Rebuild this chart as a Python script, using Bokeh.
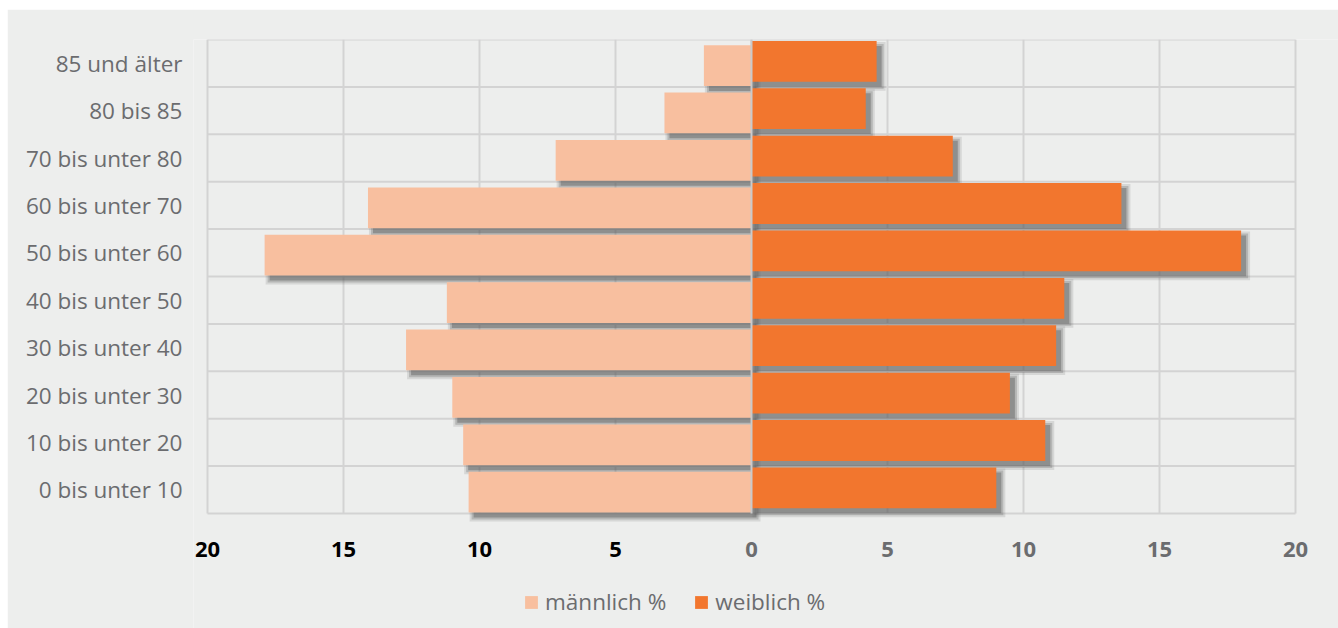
from bokeh.plotting import figure
from bokeh.models import FixedTicker, Legend, LegendItem
from bokeh.core.properties import value
from bokeh.embed import file_html
from bokeh.resources import INLINE

# Altersgruppen (unten nach oben) und Anteile in Prozent
age_groups = [
    "0 bis unter 10", "10 bis unter 20", "20 bis unter 30", "30 bis unter 40",
    "40 bis unter 50", "50 bis unter 60", "60 bis unter 70", "70 bis unter 80",
    "80 bis 85", "85 und älter",
]
male_pct = [10.4, 10.6, 11.0, 12.7, 11.2, 17.9, 14.1, 7.2, 3.2, 1.75]
female_pct = [9.0, 10.8, 9.5, 11.2, 11.5, 18.0, 13.6, 7.4, 4.2, 4.6]
x_ticks = [-20, -15, -10, -5, 0, 5, 10, 15, 20]

BG = "#edeeed"
GRID = "#d3d3d3"
MALE_COLOR = "#f8bf9f"
FEMALE_COLOR = "#f2762e"
TEXT_GRAY = "#6b6c6f"
FONT = "Open Sans"

W, H = 1331, 619
B_LEFT, B_TOP = 186, 30
FRAME_W = W - B_LEFT          # frame reaches the right and bottom edges
FRAME_H = H - B_TOP
GRID_W, GRID_H = 1088, 474    # pixel size of the bar area
PAD_L = 14                    # frame space left of the bar area
X0, X1 = -20, 20
Y0, Y1 = 0, len(age_groups)

# data units per screen pixel
PX_X = (X1 - X0) / GRID_W
PX_Y = (Y1 - Y0) / GRID_H
X_START = X0 - PAD_L * PX_X
X_END = X_START + FRAME_W * PX_X
Y_START = Y1 - FRAME_H * PX_Y

p = figure(
    width=W, height=H, x_range=(X_START, X_END), y_range=(Y_START, Y1),
    output_backend="svg", toolbar_location=None,
    min_border_left=B_LEFT, min_border_right=0,
    min_border_top=B_TOP, min_border_bottom=0,
    background_fill_color=BG, border_fill_color=BG,
    outline_line_color=None,
)
p.margin = (9, 0, 0, 7)

centers = [i + 0.5 for i in range(len(age_groups))]
bar_h = 0.86
female_y = [c + 0.04 for c in centers]
male_y = [c - 0.05 for c in centers]
male_left = [-v for v in male_pct]
zeros = [0] * len(age_groups)

# grid lines, limited to the bar area
p.xgrid.visible = False
p.ygrid.visible = False
p.segment(x0=x_ticks, y0=[Y0] * len(x_ticks), x1=x_ticks, y1=[Y1] * len(x_ticks),
          line_color=GRID, line_width=2)
bounds = list(range(Y0, Y1 + 1))
p.segment(x0=[X0] * len(bounds), y0=bounds, x1=[X1] * len(bounds), y1=bounds,
          line_color=GRID, line_width=2)

# soft drop shadows behind the bars
SH_DX, SH_DY = 5 * PX_X, 5 * PX_Y
for grow, alpha in [(4, 0.15), (2, 0.25), (0, 0.4)]:
    gx, gy = grow * PX_X, grow * PX_Y
    for ys, lefts, rights in [(male_y, male_left, zeros), (female_y, zeros, female_pct)]:
        p.hbar(
            y=[y - SH_DY for y in ys],
            left=[l + SH_DX - gx for l in lefts],
            right=[r + SH_DX + gx for r in rights],
            height=bar_h + 2 * gy,
            fill_color="#555555", fill_alpha=alpha, line_color=None,
        )

male_r = p.hbar(y=male_y, left=male_left, right=zeros, height=bar_h,
                fill_color=MALE_COLOR, line_color=None)
female_r = p.hbar(y=female_y, left=zeros, right=female_pct, height=bar_h,
                  fill_color=FEMALE_COLOR, line_color=None)

# zero line between the two halves
p.segment(x0=[0], y0=[Y0], x1=[0], y1=[Y1], line_color="#cacaca", line_width=2)

# y axis: category names
p.yaxis.ticker = FixedTicker(ticks=centers)
p.yaxis.major_label_overrides = {c: name for c, name in zip(centers, age_groups)}
p.yaxis.axis_line_color = None
p.yaxis.major_tick_line_color = None
p.yaxis.minor_tick_line_color = None
p.yaxis.major_label_standoff = 5
p.yaxis.major_label_text_font = FONT
p.yaxis.major_label_text_font_size = "22.5px"
p.yaxis.major_label_text_color = TEXT_GRAY

# x tick labels: left half black, right half gray
p.xaxis.visible = False
p.text(
    x=x_ticks, y=[Y0 - 35.5 * PX_Y] * len(x_ticks),
    text=[str(abs(t)) for t in x_ticks],
    text_color=["#000000" if t < 0 else TEXT_GRAY for t in x_ticks],
    text_align="center", text_baseline="middle",
    text_font=value(FONT), text_font_size="22px", text_font_style="bold",
)

legend = Legend(
    items=[LegendItem(label="männlich %", renderers=[male_r]),
           LegendItem(label="weiblich %", renderers=[female_r])],
    orientation="horizontal", location=(PAD_L + 316, 11),
    glyph_width=16, glyph_height=16, label_standoff=6, spacing=27,
    label_text_font=FONT, label_text_font_size="22.5px", label_text_color=TEXT_GRAY,
    background_fill_alpha=0, border_line_alpha=0, padding=0, margin=0,
)
p.add_layout(legend, "center")

open("out.html", "w").write(file_html(p, INLINE))
